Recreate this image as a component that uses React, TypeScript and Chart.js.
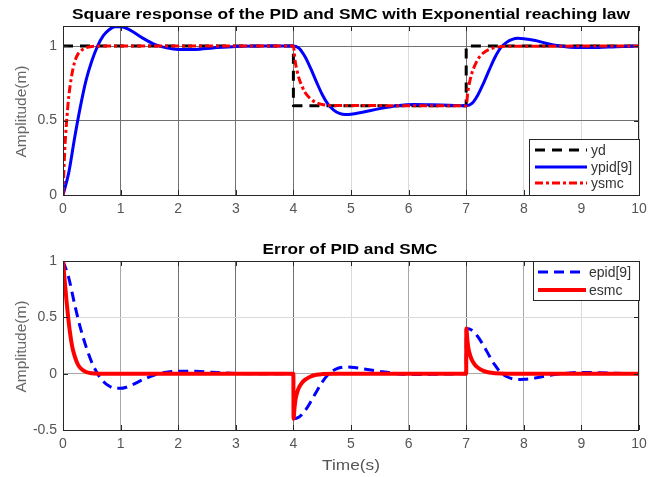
import React, { useEffect, useRef } from "react";
import { Chart, registerables } from "chart.js";
Chart.register(...registerables);

// ---------- data ----------
const xTicks = [0, 1, 2, 3, 4, 5, 6, 7, 8, 9, 10];
const topYTicks = [0, 0.5, 1];
const botYTicks = [-0.5, 0, 0.5, 1];

// reference yd (square)
const tYd = [0, 4, 4, 7, 7, 10];
const yd = [1, 1, 0.6, 0.6, 1, 1];

// PID response
const tPid = [0, 0.1, 0.2, 0.3, 0.4, 0.5, 0.6, 0.7, 0.8, 0.9, 1.0, 1.1, 1.2, 1.4, 1.6, 1.8, 2.0, 2.3, 2.6, 3.0, 3.5, 4.0,
  4.1, 4.2, 4.3, 4.4, 4.5, 4.6, 4.7, 4.8, 4.9, 5.0, 5.2, 5.5, 5.8, 6.1, 6.4, 6.7, 7.0,
  7.1, 7.2, 7.3, 7.4, 7.5, 7.6, 7.7, 7.8, 7.9, 8.0, 8.2, 8.4, 8.6, 8.8, 9.0, 9.3, 9.6, 10];
const ypid = [0, 0.15, 0.38, 0.59, 0.77, 0.9, 1.0, 1.07, 1.11, 1.13, 1.13, 1.12, 1.1, 1.05, 1.01, 0.988, 0.978, 0.978, 0.988, 0.998, 1.0, 1.0,
  0.985, 0.93, 0.85, 0.76, 0.675, 0.61, 0.57, 0.548, 0.54, 0.542, 0.556, 0.58, 0.6, 0.608, 0.606, 0.602, 0.6,
  0.615, 0.67, 0.75, 0.84, 0.925, 0.99, 1.025, 1.045, 1.052, 1.05, 1.038, 1.018, 1.002, 0.993, 0.99, 0.991, 0.996, 1.0];

// SMC response
const tSmc = [0, 0.03, 0.06, 0.1, 0.15, 0.2, 0.25, 0.3, 0.4, 0.5, 0.7, 4.0,
  4.03, 4.06, 4.1, 4.15, 4.2, 4.3, 4.4, 4.5, 4.7, 7.0,
  7.03, 7.06, 7.1, 7.15, 7.2, 7.3, 7.4, 7.5, 7.7, 10];
const ysmc = [0, 0.3, 0.48, 0.66, 0.8, 0.89, 0.94, 0.965, 0.99, 0.998, 1.0, 1.0,
  0.9, 0.84, 0.78, 0.73, 0.69, 0.645, 0.62, 0.608, 0.601, 0.6,
  0.7, 0.76, 0.82, 0.87, 0.91, 0.955, 0.978, 0.99, 0.999, 1.0];

// PID error
const tEpid = [0, 0.1, 0.2, 0.3, 0.4, 0.5, 0.6, 0.7, 0.8, 0.9, 1.0, 1.1, 1.2, 1.4, 1.6, 1.8, 2.0, 2.3, 2.6, 3.0, 3.5, 4.0,
  4.002, 4.1, 4.2, 4.3, 4.4, 4.5, 4.6, 4.7, 4.8, 4.9, 5.0, 5.2, 5.5, 5.8, 6.1, 6.4, 6.7, 7.0,
  7.002, 7.1, 7.2, 7.3, 7.4, 7.5, 7.6, 7.7, 7.8, 7.9, 8.0, 8.2, 8.4, 8.6, 8.8, 9.0, 9.3, 9.6, 10];
const epid = [1, 0.85, 0.62, 0.41, 0.24, 0.1, 0.0, -0.07, -0.11, -0.13, -0.13, -0.12, -0.1, -0.05, -0.01, 0.012, 0.022, 0.022, 0.012, 0.002, 0, 0,
  -0.4, -0.385, -0.33, -0.25, -0.16, -0.075, -0.01, 0.03, 0.052, 0.06, 0.058, 0.044, 0.02, 0, -0.008, -0.006, -0.002, 0,
  0.4, 0.385, 0.33, 0.25, 0.16, 0.075, 0.01, -0.025, -0.045, -0.052, -0.05, -0.038, -0.018, -0.002, 0.007, 0.01, 0.009, 0.004, 0];

// SMC error
const tEsmc = [0, 0.03, 0.06, 0.09, 0.12, 0.16, 0.2, 0.25, 0.3, 0.4, 0.5, 0.7, 4.0,
  4.002, 4.02, 4.04, 4.07, 4.1, 4.15, 4.2, 4.3, 4.4, 4.5, 4.7, 7.0,
  7.002, 7.02, 7.04, 7.07, 7.1, 7.15, 7.2, 7.3, 7.4, 7.5, 7.7, 10];
const esmc = [1, 0.82, 0.65, 0.5, 0.37, 0.24, 0.16, 0.09, 0.05, 0.015, 0.004, 0, 0,
  -0.4, -0.3, -0.22, -0.16, -0.12, -0.08, -0.055, -0.025, -0.01, -0.004, 0, 0,
  0.4, 0.3, 0.22, 0.16, 0.12, 0.08, 0.055, 0.025, 0.01, 0.004, 0, 0];

const zip = (xs: number[], ys: number[]) => xs.map((x, i) => ({ x, y: ys[i] }));

// ---------- styling helpers ----------
const FONT = "'Liberation Sans', Arial, Helvetica, sans-serif";
const DARK = "#707070";
const MID = "#a8a8a8";
const LIGHT = "#dadada";
const AXIS = "#262626";

function drawFit(ctx: CanvasRenderingContext2D, text: string, cx: number, cy: number, w: number, font: string, color: string, rotate = false) {
  ctx.save();
  ctx.font = font;
  const m = ctx.measureText(text).width;
  ctx.translate(cx, cy);
  if (rotate) ctx.rotate(-Math.PI / 2);
  ctx.scale(w / m, 1);
  ctx.fillStyle = color;
  ctx.textAlign = "center";
  ctx.textBaseline = "middle";
  ctx.fillText(text, 0, 0);
  ctx.restore();
}

type LegItem = { label: string; color: string; dash: number[]; width: number };
type Overlay = {
  title: { text: string; x: number; y: number; w: number };
  ylabel: { x: number; h: number };
  xlabel?: { text: string; x: number; y: number; w: number };
  legend: { x0: number; y0: number; x1: number; y1: number; rows: number[]; lx0: number; lx1: number; tx: number; items: LegItem[] };
  yt: number[];
};

function overlayPlugin(o: Overlay) {
  return {
    id: "overlay",
    afterDatasetsDraw(chart: any) {
      const ctx: CanvasRenderingContext2D = chart.ctx;
      const a = chart.chartArea;
      const xs = chart.scales.x;
      const ys = chart.scales.y;
      ctx.save();
      // inward ticks
      ctx.strokeStyle = AXIS;
      ctx.lineWidth = 1;
      ctx.setLineDash([]);
      ctx.beginPath();
      xTicks.forEach((v) => {
        const px = Math.round(xs.getPixelForValue(v)) + 0.5;
        ctx.moveTo(px, a.bottom); ctx.lineTo(px, a.bottom - 5);
        ctx.moveTo(px, a.top); ctx.lineTo(px, a.top + 5);
      });
      o.yt.forEach((v) => {
        const py = Math.round(ys.getPixelForValue(v)) + 0.5;
        ctx.moveTo(a.left, py); ctx.lineTo(a.left + 5, py);
        ctx.moveTo(a.right, py); ctx.lineTo(a.right - 5, py);
      });
      ctx.stroke();
      // box
      ctx.strokeRect(Math.round(a.left) + 0.5, Math.round(a.top) + 0.5, Math.round(a.right - a.left) - 1, Math.round(a.bottom - a.top));
      // legend
      const L = o.legend;
      ctx.fillStyle = "#fff";
      ctx.fillRect(L.x0, L.y0, L.x1 - L.x0, L.y1 - L.y0);
      ctx.strokeStyle = AXIS;
      ctx.lineWidth = 1;
      ctx.strokeRect(L.x0 + 0.5, L.y0 + 0.5, L.x1 - L.x0 - 1, L.y1 - L.y0 - 1);
      L.items.forEach((it, i) => {
        const y = L.rows[i];
        ctx.beginPath();
        ctx.strokeStyle = it.color;
        ctx.lineWidth = it.width;
        ctx.setLineDash(it.dash);
        ctx.moveTo(L.lx0, y);
        ctx.lineTo(L.lx1, y);
        ctx.stroke();
        ctx.setLineDash([]);
        ctx.fillStyle = "#333";
        ctx.font = `14px ${FONT}`;
        ctx.textAlign = "left";
        ctx.textBaseline = "middle";
        ctx.fillText(it.label, L.tx, y + 1);
      });
      ctx.restore();
    },
    afterDraw(chart: any) {
      const ctx: CanvasRenderingContext2D = chart.ctx;
      const a = chart.chartArea;
      drawFit(ctx, o.title.text, o.title.x, o.title.y, o.title.w, `bold 14px ${FONT}`, "#000");
      drawFit(ctx, "Amplitude(m)", o.ylabel.x, (a.top + a.bottom) / 2 + 1, o.ylabel.h, `15px ${FONT}`, "#666", true);
      if (o.xlabel) drawFit(ctx, o.xlabel.text, o.xlabel.x, o.xlabel.y, o.xlabel.w, `15px ${FONT}`, "#555");
    },
  };
}

function makeConfig(opts: {
  datasets: any[]; ymin: number; ymax: number; yt: number[]; padTop: number; xAxisH: number;
  xShade: Record<number, string>; yShade: Record<number, string>; overlay: Overlay;
}) {
  const tickFont = { family: FONT, size: 14 };
  return {
    type: "line",
    data: { datasets: opts.datasets },
    options: {
      responsive: false,
      animation: false,
      events: [],
      parsing: false,
      normalized: true,
      layout: { padding: { left: 0, top: opts.padTop, right: 19, bottom: 0 } },
      plugins: { legend: { display: false }, title: { display: false }, tooltip: { enabled: false } },
      scales: {
        x: {
          type: "linear",
          min: 0,
          max: 10,
          afterBuildTicks: (s: any) => { s.ticks = xTicks.map((v) => ({ value: v })); },
          afterFit: (s: any) => { s.height = opts.xAxisH; },
          border: { display: false },
          grid: { drawTicks: false, lineWidth: 1, color: (c: any) => (c.tick ? opts.xShade[c.tick.value] || LIGHT : LIGHT) },
          ticks: { padding: 6, font: tickFont, color: "#555", maxRotation: 0, autoSkip: false, callback: (v: any) => String(v) },
        },
        y: {
          type: "linear",
          min: opts.ymin,
          max: opts.ymax,
          afterBuildTicks: (s: any) => { s.ticks = opts.yt.map((v) => ({ value: v })); },
          afterFit: (s: any) => { s.width = 63; },
          border: { display: false },
          grid: { drawTicks: false, lineWidth: 1, color: (c: any) => (c.tick ? opts.yShade[c.tick.value] || LIGHT : LIGHT) },
          ticks: { padding: 6, font: tickFont, color: "#555", autoSkip: false, callback: (v: any) => String(v) },
        },
      },
    },
    plugins: [overlayPlugin(opts.overlay)],
  } as any;
}

const dashYd = [10, 7];
const dashSmc = [8, 3, 3, 3];
const dashEpid = [10, 6];

export default function App() {
  const topRef = useRef<HTMLCanvasElement>(null);
  const botRef = useRef<HTMLCanvasElement>(null);

  useEffect(() => {
    const base = { pointRadius: 0, fill: false, borderCapStyle: "butt", borderJoinStyle: "round" };
    const top = new Chart(topRef.current!, makeConfig({
      datasets: [
        { ...base, label: "yd", data: zip(tYd, yd), borderColor: "#000", borderWidth: 3, borderDash: dashYd, tension: 0, order: 2 },
        { ...base, label: "ypid[9]", data: zip(tPid, ypid), borderColor: "#0000ff", borderWidth: 3, cubicInterpolationMode: "monotone", order: 1 },
        { ...base, label: "ysmc", data: zip(tSmc, ysmc), borderColor: "#ff0000", borderWidth: 3, borderDash: dashSmc, cubicInterpolationMode: "monotone", order: 0 },
      ],
      ymin: 0, ymax: 1.135, yt: topYTicks, padTop: 26, xAxisH: 35,
      xShade: { 1: DARK, 2: DARK, 3: DARK, 4: DARK, 5: LIGHT, 6: LIGHT, 7: DARK, 8: LIGHT, 9: LIGHT },
      yShade: { 0.5: DARK, 1: DARK },
      overlay: {
        title: { text: "Square response of the PID and SMC with Exponential reaching law", x: 351, y: 15, w: 558 },
        ylabel: { x: 22, h: 92 },
        legend: {
          x0: 529, y0: 139, x1: 640, y1: 196, rows: [150, 167, 183], lx0: 535, lx1: 587, tx: 591,
          items: [
            { label: "yd", color: "#000", dash: dashYd, width: 3 },
            { label: "ypid[9]", color: "#0000ff", dash: [], width: 3 },
            { label: "ysmc", color: "#ff0000", dash: dashSmc, width: 3 },
          ],
        },
        yt: topYTicks,
      },
    }));
    const bot = new Chart(botRef.current!, makeConfig({
      datasets: [
        { ...base, label: "epid[9]", data: zip(tEpid, epid), borderColor: "#0000ff", borderWidth: 3, borderDash: dashEpid, cubicInterpolationMode: "monotone", order: 1 },
        { ...base, label: "esmc", data: zip(tEsmc, esmc), borderColor: "#ff0000", borderWidth: 4, cubicInterpolationMode: "monotone", order: 0 },
      ],
      ymin: -0.5, ymax: 1, yt: botYTicks, padTop: 31, xAxisH: 47,
      xShade: { 1: MID, 2: DARK, 3: DARK, 4: DARK, 5: LIGHT, 6: MID, 7: DARK, 8: MID, 9: LIGHT },
      yShade: { 0.5: LIGHT, 0: MID },
      overlay: {
        title: { text: "Error of PID and SMC", x: 350, y: 20, w: 175 },
        ylabel: { x: 22, h: 92 },
        xlabel: { text: "Time(s)", x: 351, y: 236, w: 58 },
        legend: {
          x0: 533, y0: 31, x1: 640, y1: 71, rows: [42, 60], lx0: 538, lx1: 586, tx: 589,
          items: [
            { label: "epid[9]", color: "#0000ff", dash: dashEpid, width: 3 },
            { label: "esmc", color: "#ff0000", dash: [], width: 4 },
          ],
        },
        yt: botYTicks,
      },
    }));
    return () => { top.destroy(); bot.destroy(); };
  }, []);

  return (
    <div style={{ position: "fixed", left: 0, top: 0, width: 658, height: 477, background: "#fff" }}>
      <canvas ref={topRef} width={658} height={230} style={{ position: "absolute", left: 0, top: 0, width: 658, height: 230 }} />
      <canvas ref={botRef} width={658} height={247} style={{ position: "absolute", left: 0, top: 230, width: 658, height: 247 }} />
    </div>
  );
}
